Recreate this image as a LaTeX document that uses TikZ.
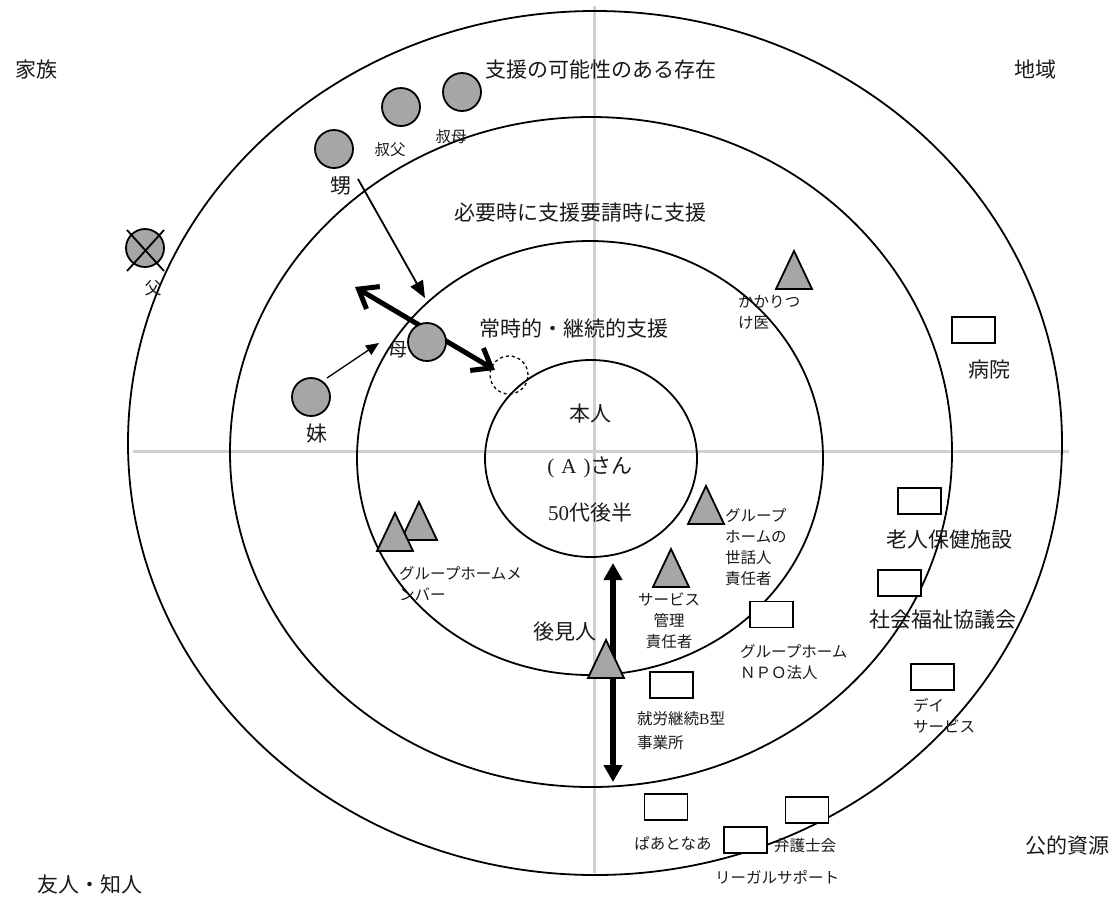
\documentclass[tikz,border=0pt]{standalone}
\usepackage{fontspec}
\setmainfont{Noto Sans CJK JP}
\newfontfamily\latinserif{Liberation Serif}
\usetikzlibrary{arrows.meta}
\definecolor{axisgray}{HTML}{D0D0D0}
\definecolor{markgray}{HTML}{A6A6A6}
\definecolor{ink}{HTML}{1A1A1A}
\newcommand\supporttri[3]{%
  \draw[tripath] (#2,#3) -- ++(-18,38) -- ++(36,0) -- cycle;
  \coordinate (#1) at (#2,#3+19);}
\begin{document}
\begin{tikzpicture}[x=1pt,y=-1pt,
  ring/.style={line width=1.8pt},
  axisline/.style={draw=axisgray,line width=3pt},
  person/.style={circle,draw,line width=1.8pt,fill=markgray,minimum size=38pt,inner sep=0pt},
  org/.style={rectangle,draw,line width=1.8pt,fill=white,minimum width=43pt,minimum height=26pt,inner sep=0pt},
  tripath/.style={draw,line width=1.8pt,fill=markgray,line join=miter},
  bigtext/.style={font=\fontsize{21pt}{25pt}\selectfont,text=ink,inner sep=0pt},
  midtext/.style={font=\fontsize{17pt}{21pt}\selectfont,text=ink,inner sep=0pt},
  smalltext/.style={font=\fontsize{15.5pt}{21pt}\selectfont,text=ink,inner sep=0pt,align=left,anchor=north west},
  smallone/.style={font=\fontsize{15.5pt}{21pt}\selectfont,text=ink,inner sep=0pt}
]
\fill[white] (0,0) rectangle (1113,898);
\useasboundingbox (0,0) rectangle (1113,898);

% axes
\coordinate (axTop) at (594,6);
\coordinate (axBot) at (594,873);
\coordinate (axLeft) at (133,451);
\coordinate (axRight) at (1069,451);
\draw[axisline] (axTop) -- (axBot);
\draw[axisline] (axLeft) -- (axRight);

% rings
\draw[ring] (591,458.5) ellipse [x radius=106pt, y radius=98.5pt];
\draw[ring] (590,458) ellipse [x radius=233pt, y radius=217pt];
\draw[ring] (591,452) ellipse [x radius=361pt, y radius=335pt];
\draw[ring] (595,443) ellipse [x radius=467pt, y radius=432pt];

% arrows
\coordinate (oiFrom) at (358,179);
\coordinate (oiTo) at (425,298);
\draw[line width=1.8pt,-{Triangle[length=17pt,width=14pt]}] (oiFrom) -- (oiTo);
\coordinate (imoFrom) at (327,378);
\coordinate (imoTo) at (379,343);
\draw[line width=1.3pt,-{Triangle[length=13pt,width=11pt]}] (imoFrom) -- (imoTo);
\coordinate (hahaLeft) at (355,287);
\coordinate (hahaRight) at (495,370);
\draw[line width=5pt,{Straight Barb[length=17pt,width=26pt]}-{Straight Barb[length=17pt,width=26pt]}] (hahaLeft) -- (hahaRight);
\coordinate (kokenTop) at (613,563);
\coordinate (kokenBot) at (613,782);
\draw[line width=6pt,{Triangle[length=17pt,width=18pt]}-{Triangle[length=17pt,width=18pt]}] (kokenTop) -- (kokenBot);

% persons (circles)
\node[person] (oi) at (334,149) {};
\node[person] (oji) at (401,107) {};
\node[person] (oba) at (462,92) {};
\node[person] (chichi) at (145,248) {};
\draw[line width=1.8pt] (127,230) -- (164,271);
\draw[line width=1.8pt] (164,230) -- (127,271);
\node[person] (haha) at (427,342) {};
\node[person] (imo) at (311,397) {};
\node[circle,draw,dashed,line width=1.3pt,minimum size=38pt,inner sep=0pt] (honninSlot) at (509,375) {};

% triangles
\supporttri{ghmB}{419}{502}
\supporttri{ghmA}{395}{513}
\supporttri{sewanin}{706}{486}
\supporttri{sabikan}{671}{549}
\supporttri{koken}{606}{640}
\supporttri{kakari}{794}{251}

% organisations (boxes)
\node[org] (byoin) at (973.5,330) {};
\node[org] (roken) at (919.5,501) {};
\node[org] (shakyo) at (899.5,583) {};
\node[org] (day) at (932.5,677) {};
\node[org] (ghnpo) at (771.5,614.5) {};
\node[org] (shuro) at (671.5,685) {};
\node[org] (paato) at (666,807) {};
\node[org] (bengo) at (807,810) {};
\node[org] (legal) at (745.5,840) {};

% corner labels
\node[bigtext] (tKazoku) at (36,70) {家族};
\node[bigtext] (tChiiki) at (1035,70) {地域};
\node[bigtext] (tKoteki) at (1067,846) {公的資源};
\node[bigtext] (tYujin) at (90,884) {友人・知人};

% ring labels
\node[bigtext] (tRing3) at (601,70) {支援の可能性のある存在};
\node[bigtext] (tRing2) at (580,213) {必要時に支援要請時に支援};
\node[bigtext] (tRing1) at (574,328) {常時的・継続的支援};
\node[bigtext] (tHonnin) at (590,414) {本人};
\node[bigtext] (tA) at (590,467) {{\latinserif(\hspace{7pt}A\hspace{7pt})}さん};
\node[bigtext] (tAge) at (590,513) {{\latinserif 50}代後半};

% person labels
\node[bigtext] (tOi) at (341,186) {甥};
\node[bigtext,font=\fontsize{19pt}{23pt}\selectfont] (tHaha) at (398,350) {母};
\node[bigtext] (tImo) at (317,434) {妹};
\node[midtext] (tChichi) at (153,288) {父};
\node[smallone] (tOji) at (390,150) {叔父};
\node[smallone] (tOba) at (451,137) {叔母};
\node[bigtext] (tKoken) at (565,632) {後見人};

% org labels
\node[bigtext] (tByoin) at (989,370) {病院};
\node[bigtext] (tRoken) at (949,540) {老人保健施設};
\node[bigtext] (tShakyo) at (943,620) {社会福祉協議会};
\node[smalltext] at (738,295) {かかりつ\\け医};
\node[smalltext] at (399,566) {グループホームメ\\ンバー};
\node[smalltext] at (725,508) {グループ\\ホームの\\世話人\\責任者};
\node[smalltext,align=center,anchor=north] at (669,593) {サービス\\管理\\責任者};
\node[smalltext] at (740,644) {グループホーム\\ＮＰＯ法人};
\node[smalltext,font=\fontsize{15.5pt}{24pt}\selectfont] at (637,711) {就労継続{\latinserif B}型\\事業所};
\node[smallone] (tPaato) at (673,843) {ぱあとなあ};
\node[smallone] (tBengo) at (805,846) {弁護士会};
\node[smallone,anchor=west] (tLegal) at (715,877) {リーガルサポート};
\node[smalltext] at (913,698) {デイ\\サービス};
\end{tikzpicture}
\end{document}
